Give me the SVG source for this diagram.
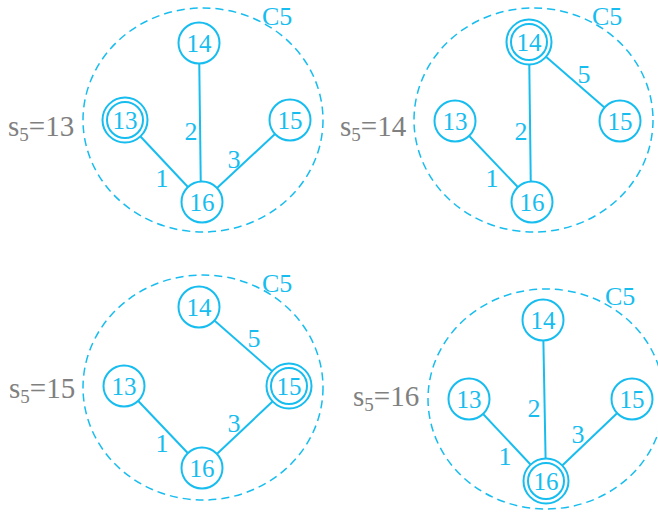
<svg xmlns="http://www.w3.org/2000/svg" width="658" height="513" viewBox="0 0 658 513" font-family="'Liberation Serif', 'DejaVu Serif', 'Times New Roman', serif">
<style>
.bg{fill:#fff}
.cl{fill:none;stroke:#17bdef;stroke-width:1.5;stroke-dasharray:8 5}
.e{stroke:#17bdef;stroke-width:2;fill:none}
.n{fill:#fff;stroke:#17bdef;stroke-width:2}
text{font-family:'Liberation Serif','DejaVu Serif','Times New Roman',serif}
.t{font-size:25px;fill:#17bdef;text-anchor:middle}
.el{font-size:26px;fill:#17bdef;text-anchor:middle}
.c5{font-size:26px;fill:#17bdef}
.s{font-size:29px;fill:#808080}
.sub{font-size:19px}
</style>
<rect class="bg" width="658" height="513"/>

<g id="clusters">
<ellipse class="cl" cx="203" cy="120" rx="120" ry="112"/>
<ellipse class="cl" cx="533.5" cy="120" rx="119.5" ry="112"/>
<ellipse class="cl" cx="203" cy="387.5" rx="120" ry="112.5"/>
<ellipse class="cl" cx="546" cy="399" rx="118" ry="110"/>
</g>

<g id="connectors">
<line class="e" x1="125" y1="120" x2="202" y2="202"/>
<line class="e" x1="199" y1="43" x2="201" y2="202"/>
<line class="e" x1="290" y1="120" x2="202" y2="202"/>

<line class="e" x1="455" y1="121" x2="532" y2="202"/>
<line class="e" x1="529" y1="42" x2="531" y2="202"/>
<line class="e" x1="529" y1="42" x2="620" y2="121"/>

<line class="e" x1="199" y1="307" x2="289" y2="386"/>
<line class="e" x1="124" y1="386" x2="202" y2="468"/>
<line class="e" x1="289" y1="386" x2="202" y2="468"/>

<line class="e" x1="543" y1="320" x2="546" y2="481"/>
<line class="e" x1="469" y1="399" x2="546" y2="481"/>
<line class="e" x1="632" y1="399" x2="546" y2="481"/>
</g>

<g id="edge-labels">
<text class="el" x="162" y="187">1</text>
<text class="el" x="191" y="140">2</text>
<text class="el" x="234" y="168">3</text>

<text class="el" x="492" y="187">1</text>
<text class="el" x="521" y="140">2</text>
<text class="el" x="584" y="83">5</text>

<text class="el" x="254" y="347">5</text>
<text class="el" x="234" y="432">3</text>
<text class="el" x="162" y="452">1</text>

<text class="el" x="534" y="417">2</text>
<text class="el" x="578" y="443">3</text>
<text class="el" x="505" y="465">1</text>
</g>

<g id="p1-label"><text class="s" x="8" y="136">s<tspan class="sub" dy="5">5</tspan><tspan dy="-5">=13</tspan></text><text class="c5" x="262" y="25">C5</text></g>
<g id="p1-n13"><circle class="n" cx="125" cy="120" r="22.5"/><circle class="n" cx="125" cy="120" r="18"/><text class="t" x="125" y="128.5">13</text></g>
<g id="p1-n14"><circle class="n" cx="199" cy="43" r="20.5"/><text class="t" x="199" y="51.5">14</text></g>
<g id="p1-n15"><circle class="n" cx="290" cy="120" r="20.5"/><text class="t" x="290" y="128.5">15</text></g>
<g id="p1-n16"><circle class="n" cx="202" cy="202" r="20.5"/><text class="t" x="202" y="210.5">16</text></g>

<g id="p2-label"><text class="s" x="340" y="136">s<tspan class="sub" dy="5">5</tspan><tspan dy="-5">=14</tspan></text><text class="c5" x="592" y="25">C5</text></g>
<g id="p2-n13"><circle class="n" cx="455" cy="121" r="20.5"/><text class="t" x="455" y="129.5">13</text></g>
<g id="p2-n14"><circle class="n" cx="529" cy="42" r="22.5"/><circle class="n" cx="529" cy="42" r="18"/><text class="t" x="529" y="50.5">14</text></g>
<g id="p2-n15"><circle class="n" cx="620" cy="121" r="20.5"/><text class="t" x="620" y="129.5">15</text></g>
<g id="p2-n16"><circle class="n" cx="532" cy="202" r="20.5"/><text class="t" x="532" y="210.5">16</text></g>

<g id="p3-label"><text class="s" x="9" y="398">s<tspan class="sub" dy="5">5</tspan><tspan dy="-5">=15</tspan></text><text class="c5" x="262" y="292">C5</text></g>
<g id="p3-n13"><circle class="n" cx="124" cy="386" r="20.5"/><text class="t" x="124" y="394.5">13</text></g>
<g id="p3-n14"><circle class="n" cx="199" cy="307" r="20.5"/><text class="t" x="199" y="315.5">14</text></g>
<g id="p3-n15"><circle class="n" cx="289" cy="386" r="22.5"/><circle class="n" cx="289" cy="386" r="18"/><text class="t" x="289" y="394.5">15</text></g>
<g id="p3-n16"><circle class="n" cx="202" cy="468" r="20.5"/><text class="t" x="202" y="476.5">16</text></g>

<g id="p4-label"><text class="s" x="353" y="406">s<tspan class="sub" dy="5">5</tspan><tspan dy="-5">=16</tspan></text><text class="c5" x="605" y="305">C5</text></g>
<g id="p4-n13"><circle class="n" cx="469" cy="399" r="20.5"/><text class="t" x="469" y="407.5">13</text></g>
<g id="p4-n14"><circle class="n" cx="543" cy="320" r="20.5"/><text class="t" x="543" y="328.5">14</text></g>
<g id="p4-n15"><circle class="n" cx="632" cy="399" r="20.5"/><text class="t" x="632" y="407.5">15</text></g>
<g id="p4-n16"><circle class="n" cx="546" cy="481" r="22.5"/><circle class="n" cx="546" cy="481" r="18"/><text class="t" x="546" y="489.5">16</text></g>
</svg>
